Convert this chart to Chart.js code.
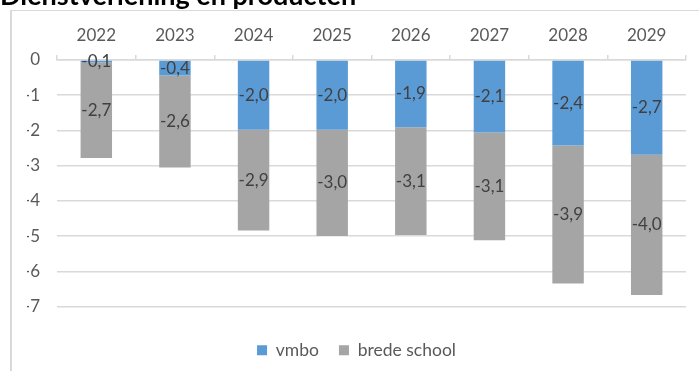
<!DOCTYPE html>
<html>
<head>
<meta charset="utf-8">
<script src="https://cdn.jsdelivr.net/npm/chart.js"></script>
<style>
  html, body { margin: 0; padding: 0; background: #fff; }
  #wrap { position: relative; width: 699px; height: 371px; }
</style>
</head>
<body>
<div id="wrap"><canvas id="chart" width="699" height="371"></canvas></div>
<script>
const titleText = 'Dienstverlening en producten';
const years = ['2022', '2023', '2024', '2025', '2026', '2027', '2028', '2029'];
const vmbo = [-0.07, -0.44, -1.98, -1.98, -1.91, -2.06, -2.43, -2.69];
const bredeSchool = [-2.71, -2.61, -2.86, -3.02, -3.06, -3.06, -3.92, -3.98];
const yMin = -7;
const yMax = 0;

const FONT = 'Lato, "Open Sans", sans-serif';
const GRID = '#D9D9D9';

// titel (half afgesneden) en kaderlijnen
const framePlugin = {
    id: 'frame',
    beforeDraw(chart) {
        const c = chart.ctx;
        c.save();
        c.fillStyle = '#000';
        c.font = 'bold 27px ' + FONT;
        c.textBaseline = 'alphabetic';
        c.textAlign = 'left';
        c.fillText(titleText, 0, 5);
        c.strokeStyle = GRID;
        c.lineWidth = 1;
        c.beginPath();
        c.moveTo(11, 10.5);
        c.lineTo(699, 10.5);
        c.stroke();
        c.lineWidth = 2;
        c.beginPath();
        c.moveTo(11, 10);
        c.lineTo(11, 371);
        c.stroke();
        c.restore();
    }
};

// waarden midden in elk segment
const labelPlugin = {
    id: 'segLabels',
    afterDatasetsDraw(chart) {
        const c = chart.ctx;
        c.save();
        c.fillStyle = '#404040';
        c.font = '17px ' + FONT;
        c.textAlign = 'center';
        c.textBaseline = 'middle';
        chart.data.datasets.forEach((ds, i) => {
            chart.getDatasetMeta(i).data.forEach((el, j) => {
                const txt = ds.data[j].toFixed(1).replace('.', ',');
                c.fillText(txt, el.x, (el.y + el.base) / 2);
            });
        });
        c.restore();
    }
};

new Chart(document.getElementById('chart'), {
    type: 'bar',
    data: {
        labels: years,
        datasets: [
            { label: 'vmbo', data: vmbo, backgroundColor: '#5B9BD5', borderWidth: 0 },
            { label: 'brede school', data: bredeSchool, backgroundColor: '#A5A5A5', borderWidth: 0 }
        ]
    },
    options: {
        responsive: false,
        animation: false,
        barPercentage: 0.4,
        categoryPercentage: 1,
        layout: { padding: { left: 27, right: 13, top: 0, bottom: 2 } },
        scales: {
            x: {
                position: 'top',
                stacked: true,
                grid: { drawOnChartArea: false, drawTicks: true, tickLength: 5, color: GRID, lineWidth: 1.5 },
                border: { color: GRID, width: 1.5 },
                ticks: { color: '#595959', font: { family: FONT, size: 17 }, padding: 9 },
                afterFit: s => { s.height = 60; }
            },
            xb: {
                type: 'category',
                position: 'bottom',
                grid: { display: false },
                border: { display: false },
                ticks: { display: false },
                afterFit: s => { s.height = 15; }
            },
            y: {
                stacked: true,
                min: yMin,
                max: yMax,
                ticks: {
                    stepSize: 1,
                    color: '#595959',
                    font: { family: FONT, size: 17 },
                    padding: 17,
                    callback: v => String(v)
                },
                grid: { color: GRID, lineWidth: 1.5, drawTicks: false },
                border: { display: false },
                afterFit: s => { s.width = 30; }
            }
        },
        plugins: {
            legend: {
                position: 'bottom',
                labels: {
                    boxWidth: 10,
                    boxHeight: 10,
                    padding: 20,
                    color: '#595959',
                    font: { family: FONT, size: 17.5 }
                }
            },
            tooltip: { enabled: false }
        }
    },
    plugins: [framePlugin, labelPlugin]
});
</script>
</body>
</html>
